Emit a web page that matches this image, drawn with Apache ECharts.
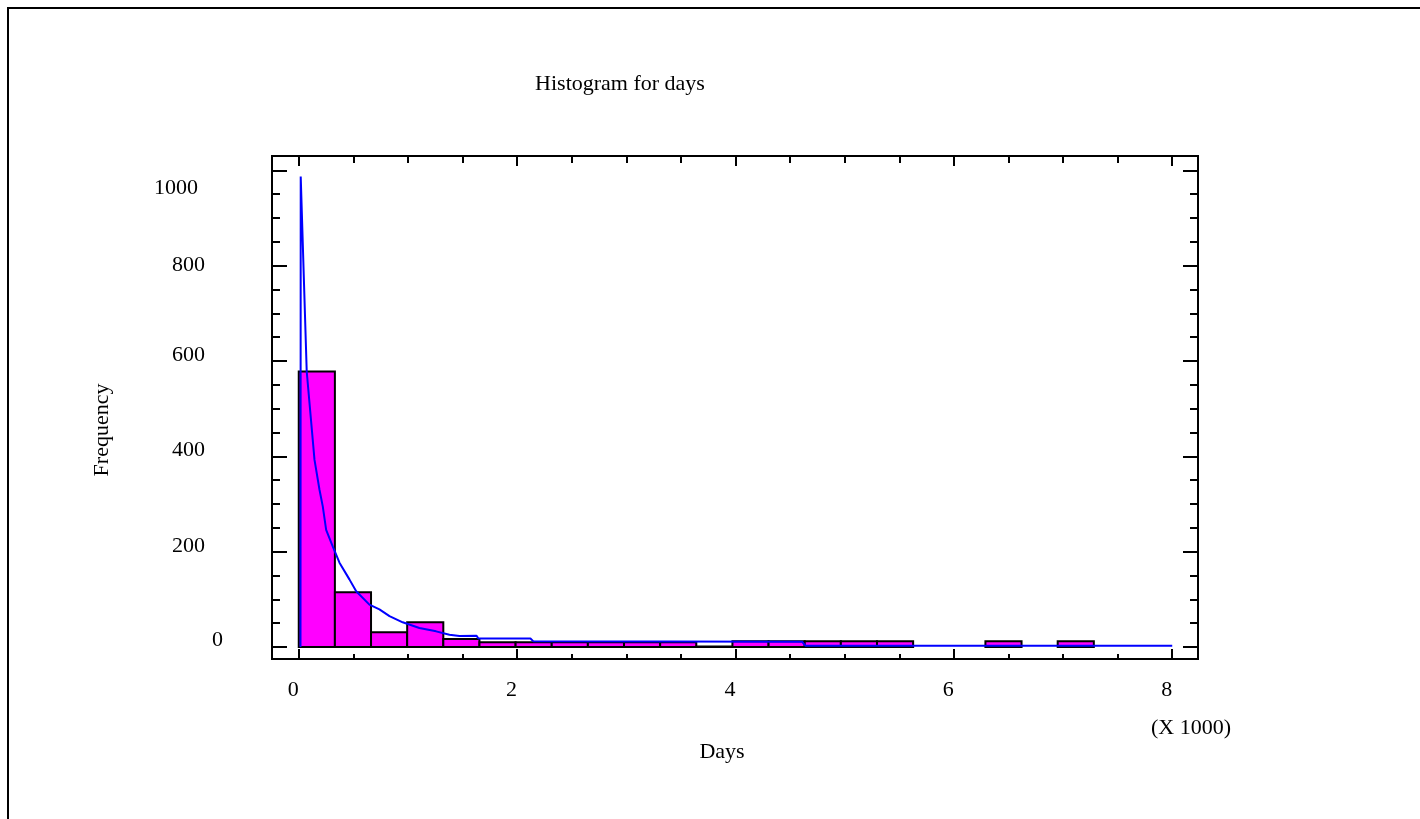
<!DOCTYPE html>
<html>
<head>
<meta charset="utf-8">
<title>Histogram for days</title>
<script src="https://cdn.jsdelivr.net/npm/echarts@6/dist/echarts.min.js"></script>
<style>
  html, body { margin: 0; padding: 0; background: #fff; }
  #myChart { width: 1420px; height: 819px; }
</style>
</head>
<body>
<div id="myChart"></div>
<script>
  // histogram classes, lower limit in thousands of days
  const binStarts = [0, 0.331, 0.662, 0.993, 1.324, 1.655, 1.986, 2.317, 2.648, 2.979, 3.310, 3.641,
    3.972, 4.303, 4.634, 4.965, 5.296, 5.627, 5.958, 6.289, 6.620, 6.951, 7.282, 7.613];
  const binWidth = 0.331;
  const counts = [578, 115, 31, 52, 17, 10, 10, 10, 10, 10, 10, 1,
    12, 12, 12, 12, 12, 0, 0, 12, 0, 12, 0, 0];

  // fitted density curve (scaled to frequency)
  const curveX = [0.016, 0.018, 0.073, 0.128, 0.144, 0.19, 0.22, 0.251, 0.311, 0.373, 0.464, 0.526,
    0.647, 0.739, 0.831, 0.952, 1.105, 1.258, 1.38, 1.472, 1.627, 1.646, 2.122, 2.149, 4.612, 4.64, 8.0];
  const curveY = [0, 987, 578, 435, 393, 330, 295, 246, 211, 177, 142, 117,
    89, 79, 65, 52, 40, 33, 26, 23, 24, 18, 18, 12, 11, 3, 3];

  const xMajorTicks = [0, 2, 4, 6, 8];
  const xMinorTicks = [0.5, 1, 1.5, 2.5, 3, 3.5, 4.5, 5, 5.5, 6.5, 7, 7.5];
  const yLabels = [0, 200, 400, 600, 800, 1000];
  const yMinorTicks = [50, 100, 150, 250, 300, 350, 450, 500, 550, 650, 700, 750, 850, 900, 950];

  const FONT = '"Liberation Serif", "Times New Roman", serif';
  const FS = 22;
  const X_MIN = -0.245, X_MAX = 8.236;
  const Y_MIN = -25, Y_MAX = 1030;

  function xAxisDef(pos, ticks, len, labels) {
    return {
      type: 'value', position: pos, min: X_MIN, max: X_MAX,
      axisLine: { show: false, onZero: false },
      splitLine: { show: false },
      axisTick: { show: true, inside: true, length: len, customValues: ticks,
        lineStyle: { color: '#000', width: 2 } },
      axisLabel: labels ? {
        show: true, customValues: xMajorTicks, align: 'right', margin: 20,
        color: '#000', fontFamily: FONT, fontSize: FS
      } : { show: false }
    };
  }

  function yRich(pt, pr, pb) {
    return { padding: [pt, pr, pb, 0], fontFamily: FONT, fontSize: FS, color: '#000' };
  }

  function yAxisDef(pos, ticks, len, labels) {
    return {
      type: 'value', position: pos, min: Y_MIN, max: Y_MAX,
      axisLine: { show: false, onZero: false },
      splitLine: { show: false },
      axisTick: { show: true, inside: true, length: len, customValues: ticks,
        lineStyle: { color: '#000', width: 2 } },
      axisLabel: labels ? {
        show: true, customValues: yLabels, margin: 49,
        color: '#000', fontFamily: FONT, fontSize: FS,
        formatter: function (v) {
          let k = 'mid';
          if (v === 1000) k = 'top';
          else if (v === 800) k = 'eight';
          else if (v === 0) k = 'zero';
          return '{' + k + '|' + v + '}';
        },
        rich: {
          top: yRich(36, 25, 0),
          eight: yRich(0, 18, 0),
          mid: yRich(0, 18, 12),
          zero: yRich(0, 0, 14)
        }
      } : { show: false }
    };
  }

  const chart = echarts.init(document.getElementById('myChart'));
  chart.setOption({
    backgroundColor: '#fff',
    animation: false,
    title: {
      text: 'Histogram for days',
      left: 615, top: 68, textAlign: 'center',
      textStyle: { fontFamily: FONT, fontSize: FS, fontWeight: 'normal', color: '#000' }
    },
    grid: {
      left: 272, top: 156, right: 222, bottom: 160,
      show: true, borderColor: '#000', borderWidth: 2, backgroundColor: 'transparent'
    },
    xAxis: [
      xAxisDef('bottom', xMajorTicks, 10, true),
      xAxisDef('bottom', xMinorTicks, 5, false),
      xAxisDef('top', xMajorTicks, 10, false),
      xAxisDef('top', xMinorTicks, 7, false)
    ],
    yAxis: [
      yAxisDef('left', yLabels, 15, true),
      yAxisDef('left', yMinorTicks, 8, false),
      yAxisDef('right', yLabels, 15, false),
      yAxisDef('right', yMinorTicks, 8, false)
    ],
    graphic: [
      { type: 'rect', z: -10, shape: { x: 8, y: 8, width: 1440, height: 840 },
        style: { fill: 'none', stroke: '#000', lineWidth: 2 } },
      { type: 'text', x: 102, y: 430, rotation: Math.PI / 2,
        style: { text: 'Frequency', align: 'center', verticalAlign: 'middle',
          fontFamily: FONT, fontSize: FS, fill: '#000' } },
      { type: 'text', x: 722, y: 752,
        style: { text: 'Days', align: 'center', verticalAlign: 'middle',
          fontFamily: FONT, fontSize: FS, fill: '#000' } },
      { type: 'text', x: 1191, y: 728,
        style: { text: '(X 1000)', align: 'center', verticalAlign: 'middle',
          fontFamily: FONT, fontSize: FS, fill: '#000' } }
    ],
    series: [
      {
        type: 'custom',
        xAxisIndex: 0, yAxisIndex: 0,
        data: binStarts.map((s, i) => [s, s + binWidth, counts[i]]),
        encode: { x: [0, 1], y: 2 },
        renderItem: function (params, api) {
          const c = api.value(2);
          if (!c) return;
          const p0 = api.coord([api.value(0), c]);
          const p1 = api.coord([api.value(1), 0]);
          return {
            type: 'rect',
            shape: { x: p0[0], y: p0[1], width: p1[0] - p0[0], height: p1[1] - p0[1] },
            style: { fill: '#ff00ff', stroke: '#000', lineWidth: 2 }
          };
        }
      },
      {
        type: 'line',
        xAxisIndex: 0, yAxisIndex: 0,
        data: curveX.map((x, i) => [x, curveY[i]]),
        symbol: 'none',
        z: 5,
        lineStyle: { color: '#0000ff', width: 2 }
      }
    ]
  });
</script>
</body>
</html>
